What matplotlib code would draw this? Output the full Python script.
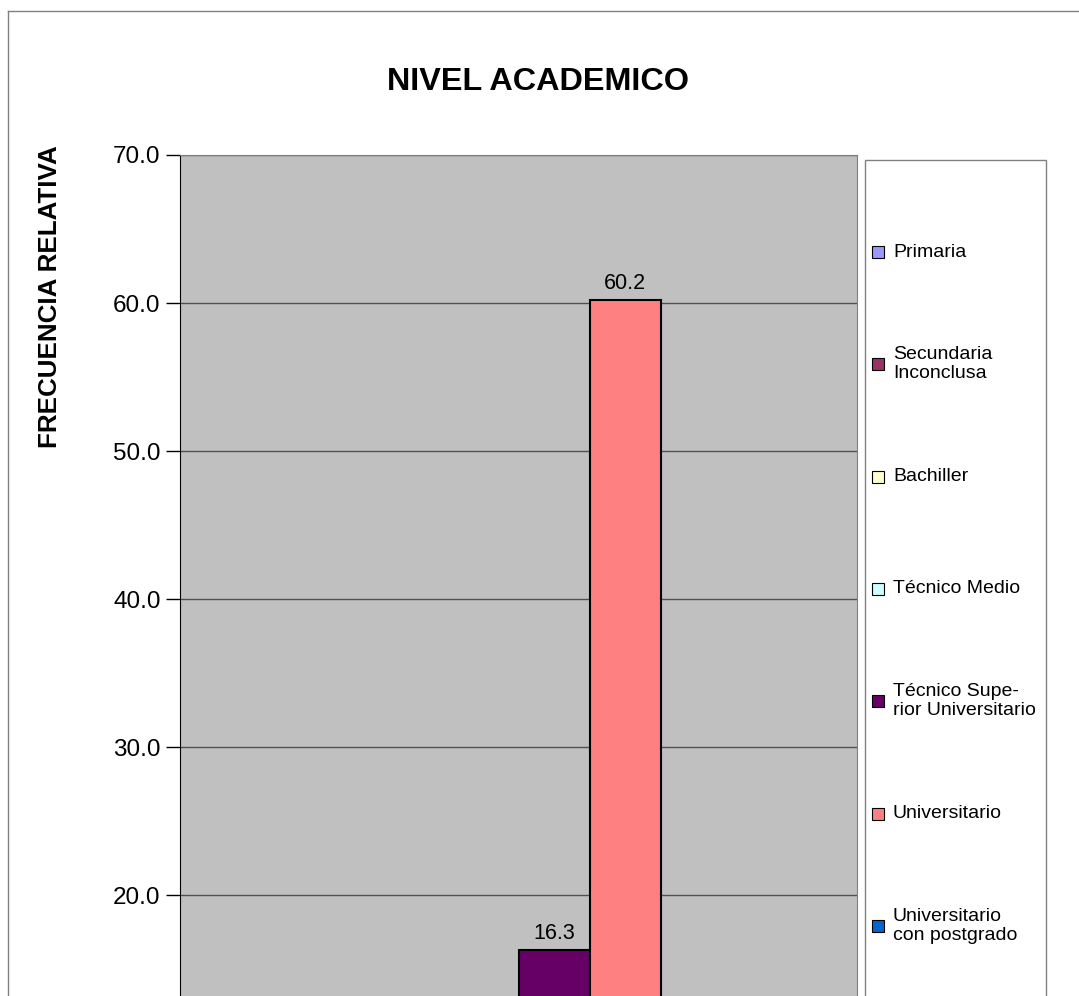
import matplotlib.pyplot as plt
from matplotlib.patches import Rectangle

# data (the lower part of the original chart is cut off, so only the two
# tallest bars and seven of the eight legend entries are visible)
niveles = [
    "Primaria",
    "Secundaria\nInconclusa",
    "Bachiller",
    "Técnico Medio",
    "Técnico Supe-\nrior Universitario",
    "Universitario",
    "Universitario\ncon postgrado",
    "No contestó",
]
frecuencia = [0.0, 1.0, 10.2, 4.1, 16.3, 60.2, 6.1, 2.1]
colores = ["#9999FF", "#993366", "#FFFFCC", "#CCFFFF",
           "#660066", "#FF8080", "#0066CC", "#CCCCFF"]
yticks = [20, 30, 40, 50, 60, 70]  # 0.0 and 10.0 lie below the crop

plt.rcParams["font.family"] = ["Liberation Sans", "DejaVu Sans"]

W, H = 1079, 996
fig = plt.figure(figsize=(W / 100, H / 100), dpi=100)


def px(x, y):
    """pixel (from top-left) -> figure fraction"""
    return x / W, 1 - y / H


# outer chart frame (continues past the crop)
fig.add_artist(plt.Line2D([8 / W, 8 / W], [px(0, 11)[1], -0.5],
                          transform=fig.transFigure, color="#808080", lw=1.0))
fig.add_artist(plt.Line2D([8 / W, 2.0], [px(0, 11)[1]] * 2,
                          transform=fig.transFigure, color="#808080", lw=1.0))

# plot area: top at y=155 (70.0), 10 units = 148 px, zero lies below the crop
left, right, top = 180, 857, 155
zero_y = top + 70 * 14.8
x0, y_top = px(left, top)
_, y_zero = px(left, zero_y)
ax = fig.add_axes([x0, y_zero, (right - left) / W, y_top - y_zero])
ax.set_facecolor("#C0C0C0")

n = len(niveles)
xs = [0.75 + i + 0.5 for i in range(n)]
bars = ax.bar(xs, frecuencia, width=1.0, color=colores,
              edgecolor="black", linewidth=1.5, zorder=3)
# the view is cut at about 13.3, only labels above that are visible
visible_min = 70 - (H - top) / 14.8
etiquetas = [f"{v:.1f}" if v > visible_min else "" for v in frecuencia]
ax.bar_label(bars, labels=etiquetas, padding=4, fontsize=15.5)

ax.set_xlim(0, n + 1.5)
ax.set_ylim(0, 70)
ax.set_yticks(yticks)
ax.set_yticklabels([f"{v:.1f}" for v in yticks], fontsize=17.5)
ax.set_xticks([])
ax.yaxis.grid(True, color="#505050", lw=1.0, zorder=1)
ax.tick_params(axis="y", length=10, width=1.0, pad=4)
for s in ["top", "right"]:
    ax.spines[s].set_color("#808080")
ax.spines["left"].set_color("black")
ax.spines["bottom"].set_color("black")

fig.text(*px(538, 82), "NIVEL ACADEMICO", ha="center", va="center",
         fontsize=23.3, fontweight="bold")
fig.text(*px(50, 297), "FRECUENCIA RELATIVA", ha="center", va="center",
         rotation=90, fontsize=18.7, fontweight="bold")

# legend box drawn by hand (Excel style, evenly spaced entries)
lx0, ly0 = px(865, 160)
fig.patches.append(Rectangle((lx0, -0.5), (1046 - 865) / W, ly0 + 0.5,
                             transform=fig.transFigure, facecolor="white",
                             edgecolor="#808080", lw=1.0))
for i, (lab, col) in enumerate(zip(niveles, colores)):
    cy = 252 + i * 112.3
    if cy > H - 10:
        continue  # entry falls below the crop
    sx, sy = px(872, cy + 6)
    fig.patches.append(Rectangle((sx, sy), 12 / W, 12 / H,
                                 transform=fig.transFigure, facecolor=col,
                                 edgecolor="black", lw=0.8))
    fig.text(*px(893, cy), lab, ha="left", va="center", fontsize=14,
             linespacing=1.15)

fig.savefig("out.png", dpi=100)
